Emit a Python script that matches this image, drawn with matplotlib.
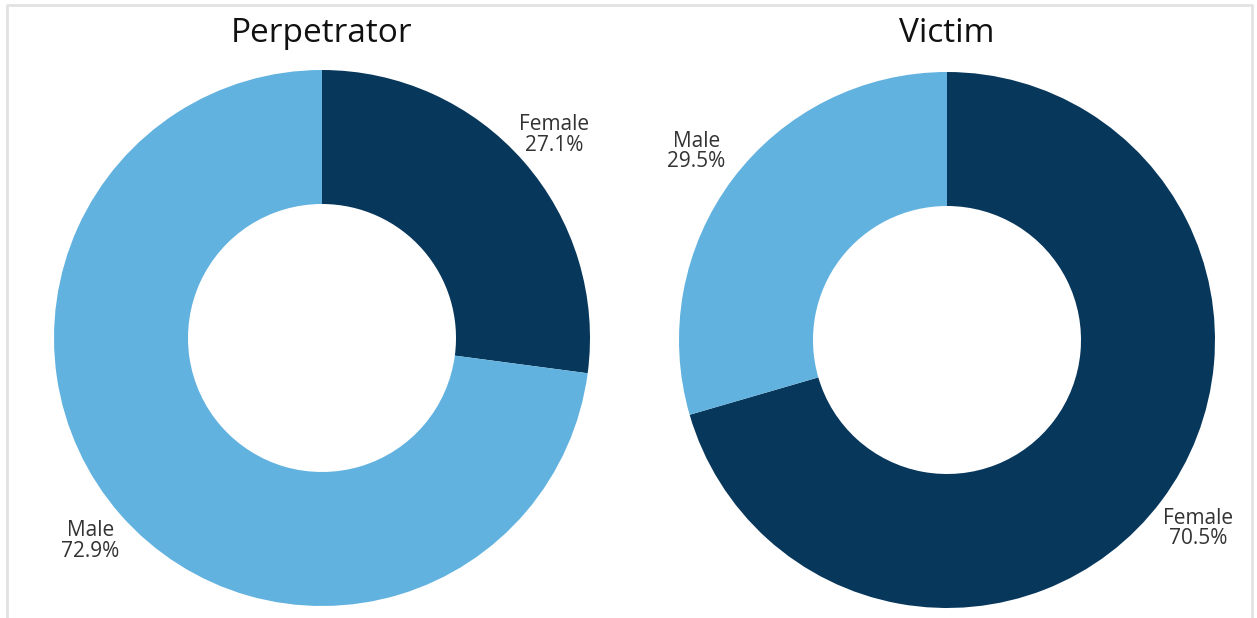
import matplotlib.pyplot as plt
from matplotlib.lines import Line2D

plt.rcParams['font.family'] = ['Open Sans', 'DejaVu Sans']

# data
titles = ['Perpetrator', 'Victim']
categories = ['Female', 'Male']
perpetrator = [27.1, 72.9]
victim = [70.5, 29.5]
colors = ['#08375c', '#62b2e0']

W, H = 1257, 618
fig = plt.figure(figsize=(W / 100, H / 100), dpi=100)
fig.patch.set_facecolor('white')

# thin grey frame (top, left, right)
fx = [7 / W, 7 / W, 1252 / W, 1252 / W]
fy = [0, 1 - 5 / H, 1 - 5 / H, 0]
fig.add_artist(Line2D(fx, fy, color='#e2e2e2', lw=2, transform=fig.transFigure))


def donut(cx, cy, R, values, title, ldist):
    lim = 1.25
    size = 2 * lim * R
    ax = fig.add_axes([(cx - size / 2) / W, 1 - (cy + size / 2) / H, size / W, size / H])
    labels = [f'{c}\n{v:.1f}%' for c, v in zip(categories, values)]
    wedges, texts = ax.pie(values, colors=colors, startangle=90, counterclock=False,
                           radius=1, wedgeprops=dict(width=0.5, edgecolor='none'),
                           labels=labels, labeldistance=ldist,
                           textprops=dict(fontsize=15, color='#333333', linespacing=0.95))
    for t in texts:
        t.set_ha('center')
        t.set_va('center')
    ax.set_xlim(-lim, lim)
    ax.set_ylim(-lim, lim)
    ax.set_aspect('equal')
    ax.axis('off')
    fig.text(cx / W, 1 - 33 / H, title, ha='center', va='center', fontsize=24, color='#111111')


donut(322, 338, 268, perpetrator, titles[0], 1.15)
donut(947, 340, 268, victim, titles[1], 1.17)

fig.savefig('out.png', dpi=100)
